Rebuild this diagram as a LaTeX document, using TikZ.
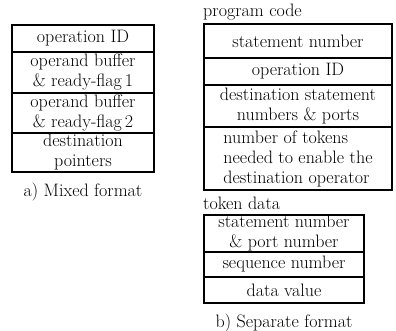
\documentclass[tikz,border=0pt]{standalone}
\usetikzlibrary{positioning}
\tikzset{
    cell/.style={draw, line width=1.1pt, inner sep=0pt, outer sep=0pt, align=center,
        font=\fontsize{18}{20}\selectfont},
    lbl/.style={inner sep=0pt, font=\fontsize{18}{20}\selectfont},
}
\begin{document}
\begin{tikzpicture}[x=1pt, y=-1pt]
    \useasboundingbox (0,0) rectangle (396,331);
    % a) mixed format
    \node[cell, anchor=north west, minimum width=142pt, minimum height=27pt] (mop) at (12,25) {operation ID};
    \node[cell, below=0pt of mop, minimum width=142pt, minimum height=41pt] (mbufa) {operand buffer\\\& ready-flag\,1};
    \node[cell, below=0pt of mbufa, minimum width=142pt, minimum height=40pt] (mbufb) {operand buffer\\\& ready-flag\,2};
    \node[cell, below=0pt of mbufb, minimum width=142pt, minimum height=39pt] (mdest) {destination\\pointers};
    \node[lbl, below=11pt of mdest] (capa) {a) Mixed format};
    % b) separate format, program code
    \node[lbl, anchor=west] (prog) at (203,12) {program code};
    \node[cell, anchor=north west, minimum width=188pt, minimum height=34pt] (pstmt) at (204,24) {statement number};
    \node[cell, below=0pt of pstmt, minimum width=188pt, minimum height=27pt] (pop) {operation ID};
    \node[cell, below=0pt of pop, minimum width=188pt, minimum height=42pt] (pdest) {destination statement\\numbers \& ports};
    \node[cell, below=0pt of pdest, minimum width=188pt, minimum height=63pt, align=left] (ptok) {number of tokens\\needed to enable the\\destination operator};
    % token data
    \node[lbl, anchor=west] (tok) at (203,203) {token data};
    \node[cell, anchor=north west, minimum width=160pt, minimum height=37pt] (tstmt) at (204,215) {statement number\\\& port number};
    \node[cell, below=0pt of tstmt, minimum width=160pt, minimum height=25pt] (tseq) {sequence number};
    \node[cell, below=0pt of tseq, minimum width=160pt, minimum height=26pt] (tval) {data value};
    \node[lbl, below=11pt of tval] (capb) {b) Separate format};
\end{tikzpicture}
\end{document}
